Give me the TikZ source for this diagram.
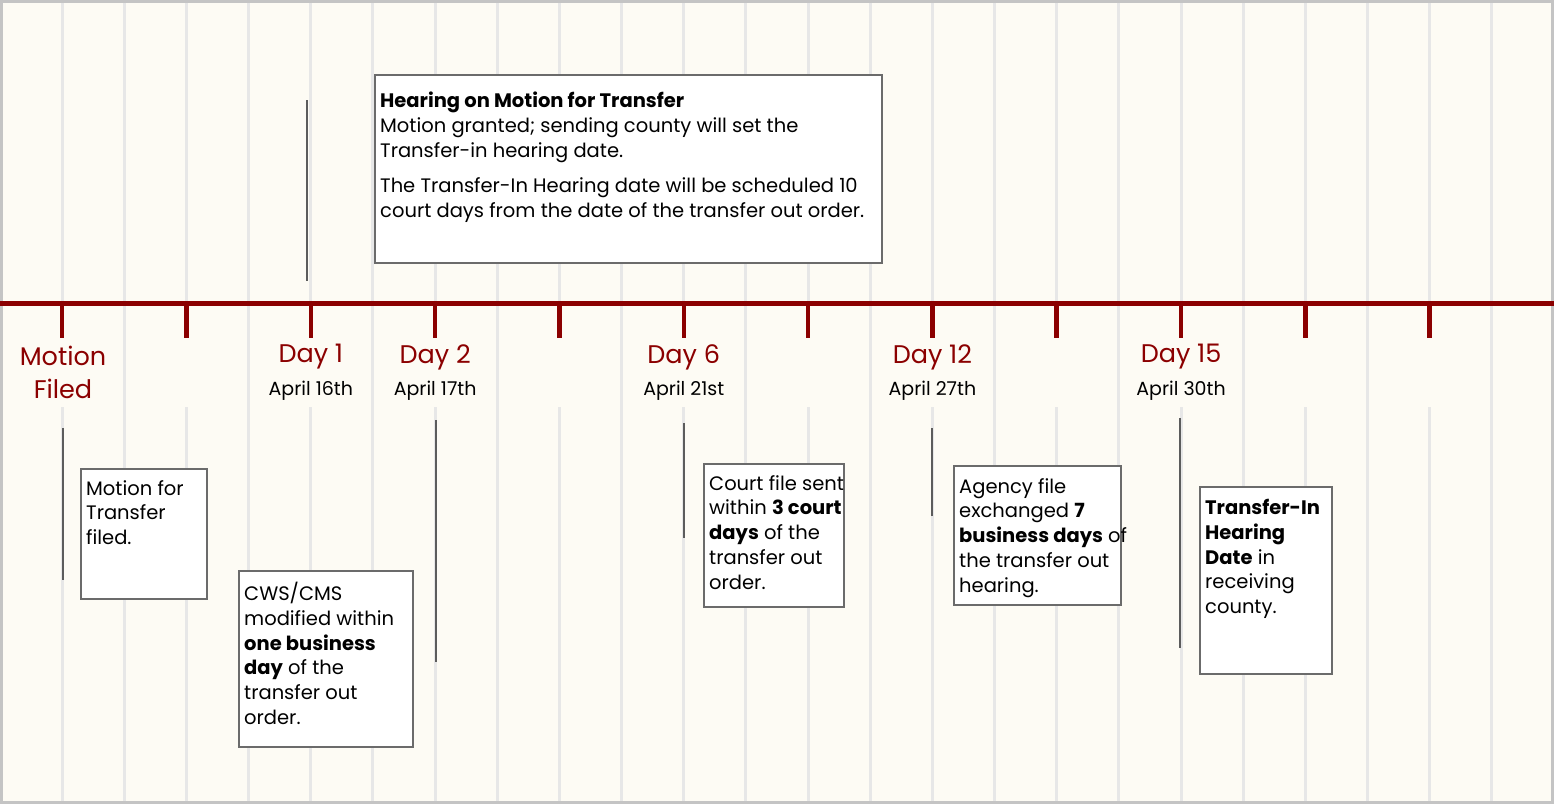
\documentclass[tikz,border=0pt]{standalone}
\usepackage{fontspec}
\setmainfont{Poppins}
\usetikzlibrary{positioning}
\definecolor{bgcream}{HTML}{FDFBF4}
\definecolor{gridgray}{HTML}{E7E7E7}
\definecolor{framegray}{HTML}{C4C4C4}
\definecolor{boxgray}{HTML}{6B6B6B}
\definecolor{linkgray}{HTML}{5C5C5C}
\definecolor{tlred}{HTML}{8B0000}
\begin{document}
\begin{tikzpicture}[x=1pt, y=-1pt,
  box/.style={draw=boxgray, line width=1.6pt, fill=white, inner sep=0pt, anchor=north west},
  boxtext/.style={anchor=north west, inner sep=0pt, align=left, font=\fontsize{19.5}{24.8}\selectfont},
  daylbl/.style={text=tlred, align=center, font=\fontsize{25.5}{33}\selectfont},
  datelbl/.style={font=\fontsize{19}{20}\selectfont},
  link/.style={draw=linkgray, line width=1.5pt}]
\useasboundingbox (0,0) rectangle (1554,804);
\fill [bgcream] (0,0) rectangle (1554,804);

%\draw [red] (0,0) grid (1554,804);
\foreach \k in {2,4,...,24}
        \draw [gridgray, line width=3pt] (\k*62.16,0) -- (\k*62.16,804);
\foreach \k in {1,3,...,23} {
        \draw [gridgray, line width=3pt] (\k*62.16,0) -- (\k*62.16,338);
        \draw [gridgray, line width=3pt] (\k*62.16,407) -- (\k*62.16,804);
}
\draw [framegray, line width=3pt] (1.5,1.5) rectangle (1552.5,802.5);

% timeline and ticks
\draw [tlred, line width=5pt] (0,303) -- (1554,303);
\foreach \k in {1,3,...,23} {
        \coordinate (t\k) at (\k*62.16,303);
        \draw [tlred, line width=4.5pt] (t\k) -- ++(0,35);
}

\node [daylbl] (mf) at (63,372) {Motion\\Filed};
\foreach \k/\d/\a/\n in {5/Day 1/April 16th/d1, 7/Day 2/April 17th/d2,
    11/Day 6/April 21st/d6, 15/Day 12/April 27th/d12, 19/Day 15/April 30th/d15} {
        \node [daylbl] (\n) at (\k*62.16,357) {\d};
        \node [datelbl] (\n-date) at (\k*62.16,391) {\a};
}

% connectors
\foreach \x/\ya/\yb/\n in {307/100/281/hear, 63/428/580/mf, 436/420/662/d2,
    684/423/538/d6, 932/428/516/d12, 1180/418/648/d15} {
        \coordinate (\n-a) at (\x,\ya);
        \coordinate (\n-b) at (\x,\yb);
        \draw [link] (\n-a) -- (\n-b);
}

% boxes
\node [box, minimum width=507pt, minimum height=188pt] (hearing) at (374,74) {};
\node [boxtext] (hearing-text) at ([shift={(6,18)}]hearing.north west)
  {\textbf{Hearing on Motion for Transfer}\\Motion granted; sending county will set the\\Transfer-in hearing date.\\[10pt]The Transfer-In Hearing date will be scheduled 10\\court days from the date of the transfer out order.};

\node [box, minimum width=126pt, minimum height=130pt] (motion) at (80,468) {};
\node [boxtext] (motion-text) at ([shift={(6,12)}]motion.north west)
  {Motion for\\Transfer\\filed.};

\node [box, minimum width=174pt, minimum height=176pt] (cws) at (238,570) {};
\node [boxtext] (cws-text) at ([shift={(6,12)}]cws.north west)
  {CWS/CMS\\modified within\\\textbf{one business}\\\textbf{day} of the\\transfer out\\order.};

\node [box, minimum width=140pt, minimum height=143pt] (court) at (703,463) {};
\node [boxtext] (court-text) at ([shift={(6,12)}]court.north west)
  {Court file sent\\within \textbf{3 court}\\\textbf{days} of the\\transfer out\\order.};

\node [box, minimum width=167pt, minimum height=139pt] (agency) at (953,465) {};
\node [boxtext] (agency-text) at ([shift={(6,13)}]agency.north west)
  {Agency file\\exchanged \textbf{7}\\\textbf{business days} of\\the transfer out\\hearing.};

\node [box, minimum width=132pt, minimum height=187pt] (transferin) at (1199,486) {};
\node [boxtext] (transferin-text) at ([shift={(6,13)}]transferin.north west)
  {\textbf{Transfer-In}\\\textbf{Hearing}\\\textbf{Date} in\\receiving\\county.};
\end{tikzpicture}
\end{document}
